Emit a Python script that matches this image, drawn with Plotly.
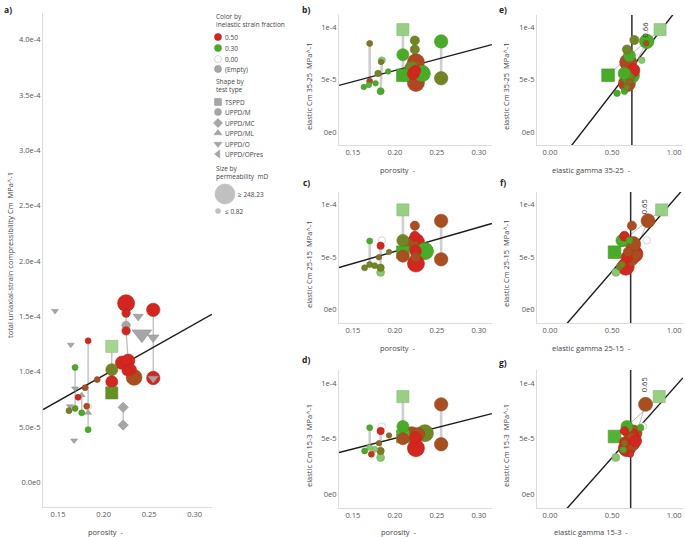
import math
import plotly.graph_objects as go

W, H = 685, 537
FONT = "Open Sans"

# ---------------- data ----------------
TYPE_NAMES = ["TSPPD", "UPPD/M", "UPPD/MC", "UPPD/ML", "UPPD/O", "UPPD/OPres"]
TYPE_SYMBOLS = ["square", "circle", "diamond", "triangle-up", "triangle-down", "triangle-left"]
COLOR_LEVELS = [0.50, 0.30, 0.00, None]
COLOR_LABELS = ["0.50", "0.30", "0.00", "(Empty)"]
PERM_MIN, PERM_MAX = 0.82, 248.23

# rows: (x, Cm [1e-4 MPa^-1], inelastic strain fraction, test type index, permeability mD, sample id)
N = None
PANEL_A = [
    (0.1467, 1.55, N, 4, 1.2, 0), (0.164, 1.245, N, 4, 1.2, 0),
    (0.183, 1.28, 0.50, 1, 1.2, 1), (0.183, 0.686, 0.00, 1, 1.5, 1),
    (0.183, 0.632, N, 3, 1.2, 1), (0.183, 0.478, 0.30, 1, 1.2, 1),
    (0.1815, 0.69, 0.44, 1, 1.2, 0),
    (0.1687, 1.04, 0.30, 1, 1.2, 2), (0.1687, 0.85, N, 4, 1.2, 2), (0.1687, 0.67, 0.33, 1, 1.2, 2),
    (0.176, 0.79, N, 3, 1.2, 3), (0.176, 0.63, 0.30, 1, 1.2, 3),
    (0.172, 0.77, 0.50, 1, 1.2, 0), (0.1797, 0.857, 0.44, 1, 1.2, 0), (0.193, 0.93, 0.44, 1, 1.2, 0),
    (0.163, 0.69, N, 4, 1.2, 0), (0.162, 0.65, 0.37, 1, 1.2, 0), (0.1676, 0.38, N, 4, 1.2, 0),
    (0.2215, 0.68, N, 2, 2.5, 4), (0.2215, 0.52, N, 2, 2.5, 4),
    (0.209, 1.23, 0.15, 0, 12, 5), (0.209, 1.02, 0.36, 1, 12, 5),
    (0.209, 0.91, 0.50, 1, 12, 5), (0.209, 0.81, 0.34, 0, 12, 5),
    (0.2247, 1.62, 0.50, 1, 80, 6), (0.2247, 1.53, 0.50, 1, 3, 6),
    (0.2247, 1.42, N, 1, 3, 6), (0.2247, 1.37, 0.50, 1, 3, 6),
    (0.2203, 1.083, 0.50, 1, 20, 6), (0.227, 1.10, 0.50, 1, 20, 6),
    (0.2258, 1.01, 0.50, 1, 6, 0), (0.230, 1.02, 0.50, 1, 8, 0), (0.2335, 0.95, 0.44, 1, 50, 0),
    (0.2545, 1.56, 0.50, 1, 20, 7), (0.2545, 1.31, N, 4, 5.5, 7), (0.2545, 0.945, 0.50, 1, 20, 7),
    (0.2545, 0.94, N, 4, 3.5, 0), (0.242, 1.34, N, 4, 80, 0), (0.238, 1.50, N, 4, 3.5, 0),
]
PANEL_B = [
    (0.170, 0.848, 0.38, 1, 1.2, 1), (0.170, 0.486, 0.44, 1, 1.2, 1),
    (0.163, 0.43, 0.30, 1, 1.0, 0), (0.169, 0.45, 0.28, 1, 1.0, 0), (0.177, 0.466, 0.30, 1, 1.0, 0),
    (0.180, 0.56, 0.36, 1, 1.5, 0),
    (0.1845, 0.686, 0.20, 1, 1.8, 2), (0.1835, 0.67, 0.37, 1, 1.0, 0), (0.183, 0.39, 0.30, 1, 1.8, 2),
    (0.192, 0.58, 0.30, 1, 1.0, 0),
    (0.2095, 0.98, 0.17, 0, 12, 3), (0.2095, 0.74, 0.30, 1, 12, 3), (0.2095, 0.543, 0.30, 0, 15, 3),
    (0.2237, 0.876, 0.36, 1, 4, 4), (0.2237, 0.79, 0.36, 1, 4, 4), (0.225, 0.667, 0.45, 1, 80, 4),
    (0.2245, 0.59, 0.50, 1, 6, 0), (0.220, 0.61, 0.36, 1, 25, 0), (0.2325, 0.56, 0.30, 1, 60, 0),
    (0.222, 0.56, 0.50, 1, 12, 0), (0.225, 0.47, 0.45, 1, 80, 4),
    (0.255, 0.867, 0.30, 1, 20, 5), (0.255, 0.514, 0.36, 1, 20, 5),
]
PANEL_C = [
    (0.170, 0.654, 0.30, 1, 1.2, 1), (0.170, 0.43, 0.36, 1, 1.2, 1),
    (0.1845, 0.66, 0.00, 1, 2, 0),
    (0.183, 0.61, 0.50, 1, 2, 2), (0.183, 0.40, 0.36, 1, 2, 2), (0.183, 0.356, 0.20, 1, 2.5, 2),
    (0.181, 0.50, 0.40, 1, 1.0, 0), (0.193, 0.55, 0.38, 1, 1.0, 0),
    (0.164, 0.40, 0.36, 1, 1.2, 0), (0.176, 0.42, 0.36, 1, 1.2, 0),
    (0.2095, 0.95, 0.17, 0, 12, 3), (0.2095, 0.66, 0.36, 1, 12, 3),
    (0.2095, 0.548, 0.30, 0, 15, 3), (0.2095, 0.51, 0.44, 1, 12, 3),
    (0.2237, 0.80, 0.44, 1, 4, 4), (0.2237, 0.70, 0.50, 1, 5, 4), (0.225, 0.645, 0.50, 1, 80, 4),
    (0.220, 0.625, 0.44, 1, 20, 0), (0.2357, 0.558, 0.30, 1, 80, 0), (0.2245, 0.558, 0.50, 1, 10, 0),
    (0.225, 0.44, 0.50, 1, 80, 4), (0.2245, 0.50, 0.44, 1, 5, 0),
    (0.255, 0.846, 0.44, 1, 20, 5), (0.255, 0.48, 0.44, 1, 20, 5),
]
PANEL_D = [
    (0.170, 0.60, 0.30, 1, 1.2, 1), (0.170, 0.42, 0.20, 1, 1.2, 1),
    (0.1845, 0.61, 0.00, 1, 2, 0),
    (0.183, 0.57, 0.50, 1, 2, 2), (0.183, 0.39, 0.38, 1, 2, 2), (0.183, 0.33, 0.20, 1, 2.5, 2),
    (0.181, 0.46, 0.40, 1, 1.0, 0), (0.193, 0.53, 0.40, 1, 1.0, 0),
    (0.164, 0.39, 0.30, 1, 1.2, 0), (0.176, 0.405, 0.20, 1, 1.2, 0), (0.172, 0.36, 0.48, 1, 1.2, 0),
    (0.2095, 0.88, 0.17, 0, 12, 3), (0.2095, 0.61, 0.30, 1, 12, 3),
    (0.2095, 0.52, 0.28, 0, 15, 3), (0.2095, 0.50, 0.44, 1, 12, 3),
    (0.220, 0.54, 0.44, 1, 40, 0), (0.2275, 0.54, 0.44, 1, 20, 0), (0.2357, 0.55, 0.35, 1, 80, 0),
    (0.2245, 0.51, 0.50, 1, 10, 4), (0.225, 0.415, 0.50, 1, 80, 4),
    (0.255, 0.81, 0.44, 1, 20, 5), (0.255, 0.45, 0.44, 1, 20, 5),
]
PANEL_E = [
    (0.887, 0.98, 0.17, 0, 12, 3), (0.64, 0.73, 0.30, 1, 12, 3), (0.468, 0.543, 0.30, 0, 15, 3),
    (0.78, 0.867, 0.30, 1, 30, 5), (0.63, 0.514, 0.36, 1, 15, 5),
    (0.775, 0.85, 0.44, 1, 1.0, 0), (0.68, 0.88, 0.36, 1, 4, 0), (0.62, 0.79, 0.36, 1, 4, 0),
    (0.63, 0.667, 0.45, 1, 80, 0), (0.74, 0.686, 0.20, 1, 1.5, 0), (0.67, 0.59, 0.50, 1, 20, 0),
    (0.60, 0.56, 0.30, 1, 15, 0), (0.62, 0.467, 0.45, 1, 80, 0), (0.66, 0.54, 0.30, 1, 40, 0),
    (0.54, 0.37, 0.30, 1, 1.5, 0), (0.60, 0.39, 0.30, 1, 1.5, 0), (0.62, 0.43, 0.36, 1, 1.5, 0),
    (0.64, 0.48, 0.40, 1, 1.5, 0),
]
PANEL_F = [
    (0.90, 0.95, 0.17, 0, 12, 3), (0.59, 0.66, 0.36, 1, 12, 3),
    (0.52, 0.548, 0.30, 0, 15, 3), (0.66, 0.51, 0.44, 1, 12, 3),
    (0.79, 0.846, 0.44, 1, 25, 5), (0.66, 0.48, 0.44, 1, 15, 5),
    (0.66, 0.80, 0.44, 1, 4, 0), (0.60, 0.70, 0.50, 1, 5, 0), (0.78, 0.66, 0.00, 1, 2, 0),
    (0.58, 0.66, 0.30, 1, 12, 0), (0.64, 0.66, 0.30, 1, 1.5, 0), (0.67, 0.625, 0.44, 1, 40, 0),
    (0.68, 0.53, 0.50, 1, 80, 0), (0.61, 0.41, 0.50, 1, 80, 0), (0.62, 0.50, 0.50, 1, 10, 0),
    (0.53, 0.356, 0.20, 1, 2.5, 0), (0.56, 0.41, 0.36, 1, 1.5, 0), (0.58, 0.43, 0.36, 1, 1.5, 0),
    (0.63, 0.55, 0.44, 1, 5, 0), (0.70, 0.52, 0.44, 1, 5, 0),
]
PANEL_G = [
    (0.88, 0.88, 0.17, 0, 12, 3), (0.62, 0.61, 0.30, 1, 12, 3),
    (0.52, 0.52, 0.28, 0, 15, 3), (0.66, 0.50, 0.44, 1, 12, 3),
    (0.77, 0.81, 0.44, 1, 25, 5), (0.67, 0.45, 0.44, 1, 15, 5),
    (0.75, 0.61, 0.00, 1, 2, 0), (0.73, 0.60, 0.30, 1, 1.5, 0), (0.68, 0.55, 0.44, 1, 40, 0),
    (0.69, 0.48, 0.50, 1, 12, 0), (0.62, 0.415, 0.50, 1, 80, 0), (0.60, 0.47, 0.50, 1, 5, 0),
    (0.60, 0.57, 0.50, 1, 3, 0), (0.53, 0.33, 0.20, 1, 2.5, 0), (0.59, 0.40, 0.30, 1, 1.5, 0),
    (0.60, 0.46, 0.40, 1, 1.5, 0), (0.66, 0.55, 0.35, 1, 80, 0), (0.65, 0.36, 0.48, 1, 1.2, 0),
    (0.66, 0.53, 0.50, 1, 20, 0),
]
CM_UNIT = 1e-4

# regression lines: (slope, intercept) in MPa^-1
FIT_A = (4.645e-4, 3.9e-6)
FIT_B = (2.15e-4, 1.59e-5)
FIT_C = (2.30e-4, 0.95e-5)
FIT_D = (1.93e-4, 1.18e-5)
FIT_E = (1.534e-4, -3.96e-5)
FIT_F = (1.363e-4, -3.16e-5)
FIT_G = (1.26e-4, -3.01e-5)
GAMMA_LIMITS = {"e": 0.66, "f": 0.65, "g": 0.65}

POROSITY_TICKS = [0.15, 0.20, 0.25, 0.30]
POROSITY_TICKTEXT = ["0.15", "0.20", "0.25", "0.30"]
GAMMA_TICKS = [0.0, 0.5, 1.0]
GAMMA_TICKTEXT = ["0.00", "0.50", "1.00"]
CM_TICKS_A = [0, 5e-5, 1e-4, 1.5e-4, 2e-4, 2.5e-4, 3e-4, 3.5e-4, 4e-4]
CM_TICKTEXT_A = ["0.0e0", "5.0e-5", "1.0e-4", "1.5e-4", "2.0e-4", "2.5e-4", "3.0e-4", "3.5e-4", "4.0e-4"]
CM_TICKS = [0, 5e-5, 1e-4]
CM_TICKTEXT = ["0e0", "5e-5", "1e-4"]


# ---------------- helpers ----------------
def frac_rgb(f):
    if f is None:
        return (166, 166, 166)
    stops = [(0.0, (255, 255, 255)), (0.30, (72, 172, 38)), (0.50, (212, 38, 30))]
    f = max(0.0, min(0.5, f))
    for (f0, c0), (f1, c1) in zip(stops[:-1], stops[1:]):
        if f <= f1:
            t = (f - f0) / (f1 - f0)
            return tuple(c0[i] + t * (c1[i] - c0[i]) for i in range(3))
    return stops[-1][1]


def frac_color(f):
    return "rgb(%d,%d,%d)" % tuple(int(round(v)) for v in frac_rgb(f))


def frac_edge(f):
    if f is not None and f < 0.1:
        return "rgb(185,185,185)"
    return "rgb(%d,%d,%d)" % tuple(int(round(v * 0.88)) for v in frac_rgb(f))


def perm_size(k):
    s = 5 + 15 * (math.log10(k) - math.log10(PERM_MIN)) / math.log10(PERM_MAX / PERM_MIN)
    return max(4.5, min(20.0, s))


def px(p):
    return p / W


def py(p):
    return 1 - p / H


fig = go.Figure()

PANELS = [
    ("a", PANEL_A, FIT_A, (43, 13, 212, 507), [0.1335, 0.319], [-2.2e-5, 4.24e-4],
     POROSITY_TICKS, POROSITY_TICKTEXT, CM_TICKS_A, CM_TICKTEXT_A,
     "porosity  -", "total uniaxial-strain compressibility Cm  MPa^-1", (105, 532), (10, 255)),
    ("b", PANEL_B, FIT_B, (339, 15, 492, 145), [0.1335, 0.3155], [-1.25e-5, 1.12e-4],
     POROSITY_TICKS, POROSITY_TICKTEXT, CM_TICKS, CM_TICKTEXT,
     "porosity  -", "elastic Cm 35-25  MPa^-1", (397, 170), (309, 87)),
    ("c", PANEL_C, FIT_C, (339, 192, 492, 323), [0.1335, 0.3155], [-1.25e-5, 1.12e-4],
     POROSITY_TICKS, POROSITY_TICKTEXT, CM_TICKS, CM_TICKTEXT,
     "porosity  -", "elastic Cm 25-15  MPa^-1", (397, 348), (309, 265)),
    ("d", PANEL_D, FIT_D, (339, 370, 492, 508), [0.1335, 0.3155], [-1.25e-5, 1.12e-4],
     POROSITY_TICKS, POROSITY_TICKTEXT, CM_TICKS, CM_TICKTEXT,
     "porosity  -", "elastic Cm 15-3  MPa^-1", (398, 532), (309, 446)),
    ("e", PANEL_E, FIT_E, (537, 15, 683, 145), [-0.105, 1.072], [-1.25e-5, 1.12e-4],
     GAMMA_TICKS, GAMMA_TICKTEXT, CM_TICKS, CM_TICKTEXT,
     "elastic gamma 35-25  -", "elastic Cm 35-25  MPa^-1", (591, 170), (506, 87)),
    ("f", PANEL_F, FIT_F, (537, 192, 683, 323), [-0.105, 1.072], [-1.25e-5, 1.12e-4],
     GAMMA_TICKS, GAMMA_TICKTEXT, CM_TICKS, CM_TICKTEXT,
     "elastic gamma 25-15  -", "elastic Cm 25-15  MPa^-1", (591, 348), (506, 264)),
    ("g", PANEL_G, FIT_G, (537, 370, 683, 508), [-0.105, 1.072], [-1.25e-5, 1.12e-4],
     GAMMA_TICKS, GAMMA_TICKTEXT, CM_TICKS, CM_TICKTEXT,
     "elastic gamma 15-3  -", "elastic Cm 15-3  MPa^-1", (591, 532), (506, 446)),
]
LABEL_POS = {"a": (8, 9), "b": (306, 9), "c": (306, 182), "d": (306, 359),
             "e": (503, 10), "f": (503, 183), "g": (503, 362)}

annotations = []
layout_axes = {}
TICKFONT = dict(family=FONT, size=7.5, color="#555555")
TITLEFONT = dict(family=FONT, size=7.5, color="#444444")

for i, (key, rows, fit, box, xr, yr, xt, xtt, yt, ytt, xtitle, ytitle, xtp, ytp) in enumerate(PANELS, start=1):
    xa = "x" if i == 1 else "x%d" % i
    ya = "y" if i == 1 else "y%d" % i
    l, t, r, b = box
    layout_axes["xaxis" if i == 1 else "xaxis%d" % i] = dict(
        domain=[px(l), px(r)], range=xr, anchor=ya, showgrid=False, zeroline=False,
        showline=True, linecolor="#dcdcdc", linewidth=1, ticks="", ticklabeloverflow="allow",
        tickvals=xt, ticktext=xtt, tickfont=TICKFONT, fixedrange=True)
    layout_axes["yaxis" if i == 1 else "yaxis%d" % i] = dict(
        domain=[py(b), py(t)], range=yr, anchor=xa, showgrid=False, zeroline=False,
        showline=True, linecolor="#dcdcdc", linewidth=1, ticks="", ticklabeloverflow="allow",
        tickvals=yt, ticktext=ytt, tickfont=TICKFONT, fixedrange=True)

    gamma_panel = key in GAMMA_LIMITS
    xs = [row[0] for row in rows]
    ys = [row[1] * CM_UNIT for row in rows]

    groups = sorted(set(row[5] for row in rows if row[5] != 0))
    lx, ly = [], []
    for g in groups:
        pts = sorted([(row[0], row[1] * CM_UNIT) for row in rows if row[5] == g], key=lambda p: -p[1])
        lx += [p[0] for p in pts] + [None]
        ly += [p[1] for p in pts] + [None]
    if gamma_panel:
        lstyle = dict(color="#a8a8a8", width=0.8)
    elif key == "a":
        lstyle = dict(color="#bdbdbd", width=1.3)
    else:
        lstyle = dict(color="#cfcfcf", width=2.6)
    fig.add_trace(go.Scatter(x=lx, y=ly, mode="lines", line=lstyle, xaxis=xa, yaxis=ya,
                             hoverinfo="skip", showlegend=False))

    slope, icpt = fit
    fx = [xr[0], xr[1] - 0.001 * (xr[1] - xr[0])]
    fy = [icpt + slope * v for v in fx]
    fig.add_trace(go.Scatter(x=fx, y=fy, mode="lines", line=dict(color="#1a1a1a", width=1.4),
                             xaxis=xa, yaxis=ya, hoverinfo="skip", showlegend=False))

    if gamma_panel:
        gv = GAMMA_LIMITS[key]
        fig.add_trace(go.Scatter(x=[gv, gv], y=yr, mode="lines", line=dict(color="#2b2b2b", width=1.5),
                                 xaxis=xa, yaxis=ya, hoverinfo="skip", showlegend=False))
        annotations.append(dict(x=gv, y=yr[1], xref=xa, yref=ya, text="%.2f" % gv, textangle=-90,
                                showarrow=False, xanchor="left", yanchor="top", xshift=6, yshift=-5,
                                font=dict(family=FONT, size=7.5, color="#333333")))

    order = sorted(range(len(rows)), key=lambda j: -perm_size(rows[j][4]))
    fig.add_trace(go.Scatter(
        x=[xs[j] for j in order], y=[ys[j] for j in order], mode="markers",
        marker=dict(
            symbol=[TYPE_SYMBOLS[rows[j][3]] for j in order],
            size=[perm_size(rows[j][4]) for j in order],
            color=[frac_color(rows[j][2]) for j in order],
            line=dict(color=[frac_edge(rows[j][2]) for j in order], width=0.6),
            opacity=1),
        xaxis=xa, yaxis=ya, hoverinfo="skip", showlegend=False, cliponaxis=True))

    annotations.append(dict(x=px(xtp[0]), y=py(xtp[1]), xref="paper", yref="paper", text=xtitle,
                            showarrow=False, xanchor="center", yanchor="middle", font=TITLEFONT))
    annotations.append(dict(x=px(ytp[0]), y=py(ytp[1]), xref="paper", yref="paper", text=ytitle,
                            textangle=-90, showarrow=False, xanchor="center", yanchor="middle",
                            font=TITLEFONT))
    lp = LABEL_POS[key]
    annotations.append(dict(x=px(lp[0]), y=py(lp[1]), xref="paper", yref="paper", text="<b>%s)</b>" % key,
                            showarrow=False, xanchor="center", yanchor="middle",
                            font=dict(family=FONT, size=8.5, color="#222222")))

# ---------------- legend (pixel overlay axis) ----------------
LX = "x8"
LY = "y8"
layout_axes["xaxis8"] = dict(domain=[0, 1], range=[0, W], visible=False, fixedrange=True, anchor=LY)
layout_axes["yaxis8"] = dict(domain=[0, 1], range=[H, 0], visible=False, fixedrange=True, anchor=LX)
LEGFONT = dict(family=FONT, size=6.5, color="#444444")


def leg_text(x, y, s):
    annotations.append(dict(x=x, y=y, xref=LX, yref=LY, text=s, showarrow=False,
                            xanchor="left", yanchor="middle", font=LEGFONT))


leg_text(214, 16, "Color by")
leg_text(214, 24, "inelastic strain fraction")
cy = [37, 48, 59, 69]
fig.add_trace(go.Scatter(x=[218] * 4, y=cy, mode="markers", xaxis=LX, yaxis=LY,
                         marker=dict(symbol="circle", size=7,
                                     color=[frac_color(c) for c in COLOR_LEVELS],
                                     line=dict(color=[frac_edge(c) for c in COLOR_LEVELS], width=0.6)),
                         hoverinfo="skip", showlegend=False))
for yv, s in zip(cy, COLOR_LABELS):
    leg_text(223, yv, s)

leg_text(214, 81, "Shape by")
leg_text(214, 89, "test type")
sy = [102, 112, 123, 133, 144, 154]
fig.add_trace(go.Scatter(x=[218] * 6, y=sy, mode="markers", xaxis=LX, yaxis=LY,
                         marker=dict(symbol=TYPE_SYMBOLS, size=7, color="rgb(166,166,166)",
                                     line=dict(color="rgb(150,150,150)", width=0.5)),
                         hoverinfo="skip", showlegend=False))
for yv, s in zip(sy, TYPE_NAMES):
    leg_text(223, yv, s)

leg_text(214, 168, "Size by")
leg_text(214, 176, "permeability  mD")
fig.add_trace(go.Scatter(x=[225, 218], y=[194, 211], mode="markers", xaxis=LX, yaxis=LY,
                         marker=dict(symbol="circle", size=[perm_size(PERM_MAX), perm_size(PERM_MIN)],
                                     color="rgb(166,166,166)", line=dict(color="rgb(150,150,150)", width=0.5)),
                         hoverinfo="skip", showlegend=False))
leg_text(236, 194, "\u2265 %.2f" % PERM_MAX)
leg_text(223, 211, "\u2264 %.2f" % PERM_MIN)

fig.update_layout(
    width=W, height=H, margin=dict(l=0, r=0, t=0, b=0),
    paper_bgcolor="white", plot_bgcolor="rgba(0,0,0,0)",
    font=dict(family=FONT, size=7.5, color="#444444"),
    showlegend=False, annotations=annotations, **layout_axes)

fig.write_html("out.html", config={"responsive": False, "displayModeBar": False},
               post_script="document.body.style.margin='0px';document.body.style.overflow='hidden';")
